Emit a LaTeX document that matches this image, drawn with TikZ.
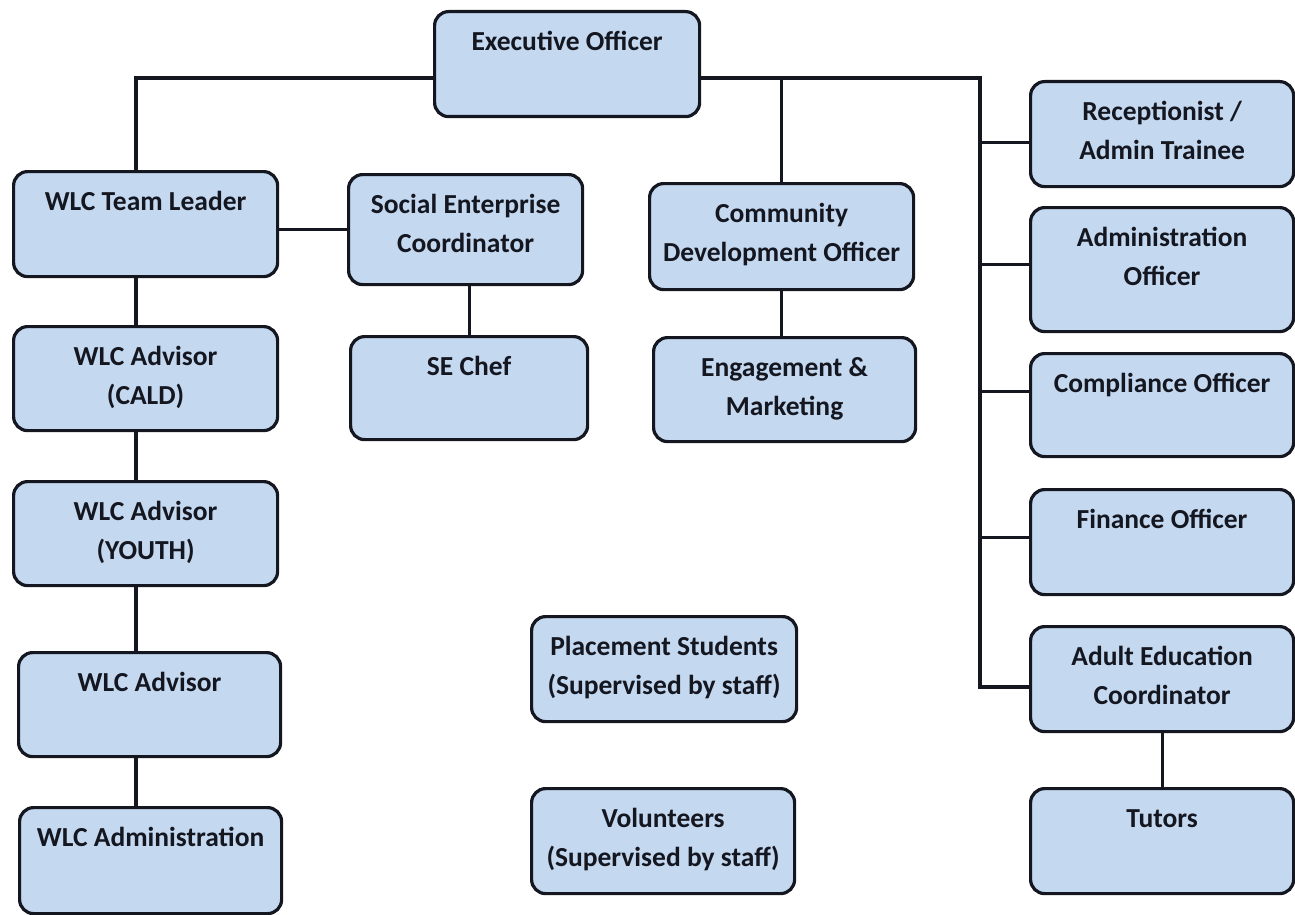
\documentclass[tikz,border=0pt]{standalone}
\usepackage{fontspec}
\setmainfont{Carlito}
\usepackage{tikz}
\definecolor{boxblue}{RGB}{196,216,240}
\definecolor{inkdark}{RGB}{20,22,32}
\newcommand{\boxstrut}{\rule{0pt}{40pt}}

\begin{document}
\begin{tikzpicture}[x=1pt,y=-1pt,
	role_box/.style={draw=inkdark,line width=3.2pt,fill=boxblue,rounded corners=14pt,anchor=north west,inner sep=0pt,minimum width=264pt,minimum height=105pt},
	role_text/.style={anchor=north,align=center,inner sep=0pt,text=inkdark,font=\fontsize{27.5}{39}\selectfont\bfseries},
	link/.style={draw=inkdark,line width=3.2pt}]

		\useasboundingbox (0,0) rectangle (1295,915);

		\node[role_box,minimum width=265pt] (exec) at (433,10) {};
		\node[role_box] (wlclead) at (12,170) {};
		\node[role_box,minimum width=234pt,minimum height=110pt] (secoord) at (347,173) {};
		\node[role_box,minimum height=106pt] (cdo) at (648,182) {};
		\node[role_box,minimum width=237pt,minimum height=103pt] (sechef) at (349,335) {};
		\node[role_box,minimum width=262pt,minimum height=104pt] (engage) at (652,336) {};

		\node[role_box,minimum width=263pt] (recep) at (1029,80) {};
		\node[role_box,minimum width=263pt,minimum height=124pt] (adminoff) at (1029,206) {};
		\node[role_box,minimum width=263pt,minimum height=103pt] (compl) at (1029,352) {};
		\node[role_box,minimum width=263pt] (finance) at (1029,488) {};
		\node[role_box,minimum width=263pt] (adulted) at (1029,625) {};
		\node[role_box,minimum width=263pt] (tutors) at (1029,787) {};

		\node[role_box,minimum height=104pt] (cald) at (12,325) {};
		\node[role_box,minimum height=104pt] (youth) at (12,480) {};
		\node[role_box,minimum width=262pt,minimum height=104pt] (advisor) at (17,651) {};
		\node[role_box,minimum width=262pt,minimum height=106pt] (wlcadmin) at (18,806) {};

		\node[role_box,minimum width=265pt] (placement) at (530,615) {};
		\node[role_box,minimum width=263pt] (volunteers) at (530,787) {};

		\node[role_text] (exec_t) at (exec.north) {\boxstrut Executive Officer};
		\node[role_text] (wlclead_t) at (wlclead.north) {\boxstrut WLC Team Leader};
		\node[role_text] (secoord_t) at (secoord.north) {\boxstrut Social Enterprise\\Coordinator};
		\node[role_text] (cdo_t) at (cdo.north) {\boxstrut Community\\Development Officer};
		\node[role_text] (sechef_t) at (sechef.north) {\boxstrut SE Chef};
		\node[role_text] (engage_t) at (engage.north) {\boxstrut Engagement \&\\Marketing};
		\node[role_text] (recep_t) at (recep.north) {\boxstrut Receptionist /\\Admin Trainee};
		\node[role_text] (adminoff_t) at (adminoff.north) {\boxstrut Administration\\Officer};
		\node[role_text] (compl_t) at (compl.north) {\boxstrut Compliance Officer};
		\node[role_text] (finance_t) at (finance.north) {\boxstrut Finance Officer};
		\node[role_text] (adulted_t) at (adulted.north) {\boxstrut Adult Education\\Coordinator};
		\node[role_text] (tutors_t) at (tutors.north) {\boxstrut Tutors};
		\node[role_text] (cald_t) at (cald.north) {\boxstrut WLC Advisor\\(CALD)};
		\node[role_text] (youth_t) at (youth.north) {\boxstrut WLC Advisor\\(YOUTH)};
		\node[role_text] (advisor_t) at (advisor.north) {\boxstrut WLC Advisor};
		\node[role_text] (wlcadmin_t) at (wlcadmin.north) {\boxstrut WLC Administration};
		\node[role_text] (placement_t) at (placement.north) {\boxstrut Placement Students\\(Supervised by staff)};
		\node[role_text] (volunteers_t) at (volunteers.north) {\boxstrut Volunteers\\(Supervised by staff)};

		\coordinate (elbowL) at (136,78);
		\coordinate (elbowR) at (980,78);
		\coordinate (railend) at (980,687);

		\draw[link] (exec.west |- elbowL) -- (elbowL) -- (wlclead.north -| elbowL);
		\draw[link] (exec.east |- elbowR) -- (elbowR) -- (railend) -- (railend -| adulted.west);
		\draw[link] (cdo.north) -- (cdo.north |- elbowR);
		\foreach \n/\s in {recep/-8.5,adminoff/5,compl/13.5,finance/4.5}
			\draw[link] ([yshift=\s pt]\n.west) -- ([yshift=\s pt]\n.west -| elbowR);
		\draw[link] (wlclead.east |- secoord.west) -- (secoord.west);
		\draw[link] (sechef.north) -- (sechef.north |- secoord.south);
		\draw[link] (cdo.south) -- (cdo.south |- engage.north);
		\draw[link] (wlclead.south -| elbowL) -- (cald.north -| elbowL);
		\draw[link] (cald.south -| elbowL) -- (youth.north -| elbowL);
		\draw[link] (youth.south -| elbowL) -- (advisor.north -| elbowL);
		\draw[link] (advisor.south -| elbowL) -- (wlcadmin.north -| elbowL);
		\draw[link] (adulted.south) -- (tutors.north);
		\end{tikzpicture}
\end{document}
